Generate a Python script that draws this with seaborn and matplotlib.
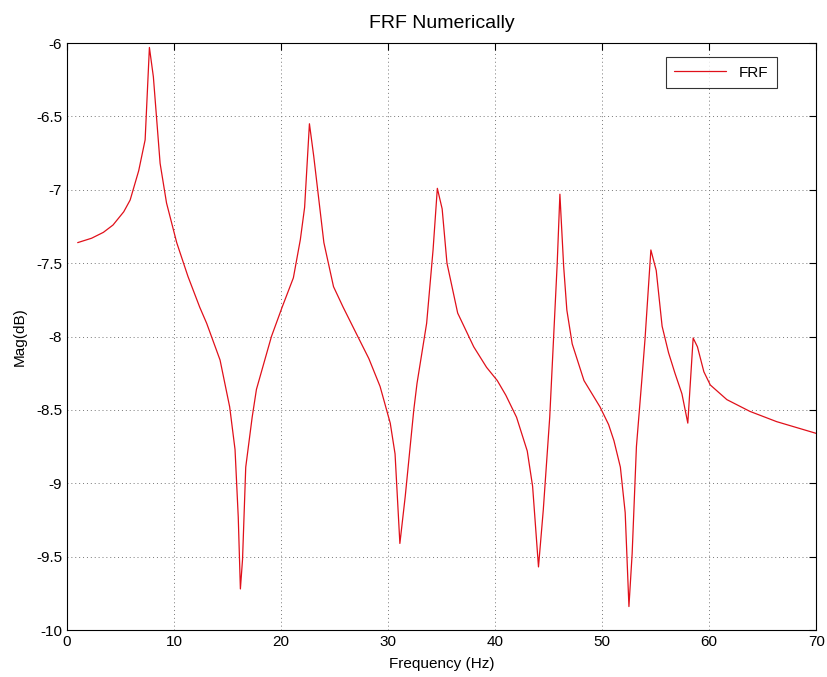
import matplotlib
matplotlib.use("Agg")
import matplotlib.pyplot as plt
import numpy as np
import pandas as pd
import seaborn as sns

# values
freq = [1, 2.3, 3.4, 4.3, 5.3, 5.9, 6.7, 7.3, 7.7, 8.07, 8.7, 9.3, 10.25, 11.3,
        12.4, 13.05, 14.3, 15.2, 15.7, 16.0, 16.2, 16.4, 16.7, 17.3, 17.7, 19.1,
        20.1, 21.15, 21.8, 22.2, 22.65, 23.05, 24.0, 24.9, 25.8, 27.1, 28.2,
        29.25, 30.2, 30.65, 31.1, 31.6, 32.4, 32.7, 33.6, 34.2, 34.6, 35.05,
        35.5, 36.5, 38.0, 39.2, 40.2, 41.0, 42.0, 43.0, 43.5, 44.05, 44.5, 45.1,
        45.8, 46.05, 46.4, 46.7, 47.2, 48.3, 49.8, 50.6, 51.1, 51.7, 52.15, 52.5,
        52.8, 53.2, 53.7, 54.0, 54.55, 55.05, 55.6, 56.2, 56.8, 57.45, 58.0,
        58.5, 58.9, 59.5, 60.1, 61.65, 63.8, 66.3, 70]
mag = [-7.36, -7.33, -7.29, -7.24, -7.15, -7.07, -6.87, -6.66, -6.03, -6.23,
       -6.82, -7.09, -7.36, -7.59, -7.80, -7.91, -8.16, -8.48, -8.77, -9.23,
       -9.72, -9.52, -8.89, -8.55, -8.36, -8.00, -7.80, -7.60, -7.34, -7.12,
       -6.55, -6.77, -7.36, -7.66, -7.80, -7.99, -8.15, -8.34, -8.59, -8.80,
       -9.41, -9.09, -8.50, -8.32, -7.91, -7.41, -6.99, -7.13, -7.50, -7.84,
       -8.07, -8.21, -8.30, -8.40, -8.55, -8.78, -9.02, -9.57, -9.18, -8.55,
       -7.50, -7.03, -7.52, -7.82, -8.05, -8.30, -8.48, -8.60, -8.71, -8.89,
       -9.20, -9.84, -9.48, -8.75, -8.30, -8.02, -7.41, -7.55, -7.93, -8.11,
       -8.25, -8.39, -8.59, -8.01, -8.07, -8.24, -8.33, -8.43, -8.51, -8.58,
       -8.66]

df = pd.DataFrame({"Frequency (Hz)": freq, "Mag(dB)": mag})

sns.set_style("white")
plt.rcParams['font.family'] = ['Arial', 'Liberation Sans', 'DejaVu Sans']
plt.rcParams['text.color'] = 'black'
plt.rcParams['axes.labelcolor'] = 'black'
plt.rcParams['xtick.color'] = 'black'
plt.rcParams['ytick.color'] = 'black'

fig = plt.figure(figsize=(8.27, 6.77), dpi=100)
ax = fig.add_axes([0.081, 0.0694, 0.906, 0.867])

sns.lineplot(data=df, x="Frequency (Hz)", y="Mag(dB)", color="#e0101a",
             linewidth=0.9, label="FRF", ax=ax, sort=False)

ax.set_xlim(0, 70)
ax.set_ylim(-10, -6)
ax.set_xticks(np.arange(0, 71, 10))
ax.set_yticks(np.arange(-10, -5.9, 0.5))
ax.set_yticklabels(["-10", "-9.5", "-9", "-8.5", "-8", "-7.5", "-7", "-6.5", "-6"])
ax.grid(True, linestyle=(0, (1, 3)), color="#777777", linewidth=0.7)
ax.tick_params(direction="in", labelsize=11, length=5, color="black",
               top=True, right=True)
for s in ax.spines.values():
    s.set_color("black")
    s.set_linewidth(0.8)

ax.set_xlabel("Frequency (Hz)", fontsize=11, labelpad=6)
ax.set_ylabel("Mag(dB)", fontsize=11, labelpad=7)
ax.set_title("FRF Numerically", fontsize=14, pad=11)

leg = ax.legend(loc="upper right", bbox_to_anchor=(0.947, 0.976),
                borderaxespad=0, fontsize=11, frameon=True, fancybox=False,
                edgecolor="black", handlelength=3.4, borderpad=0.55)
leg.get_frame().set_linewidth(0.8)

fig.savefig("out.png", dpi=100, facecolor="white")
